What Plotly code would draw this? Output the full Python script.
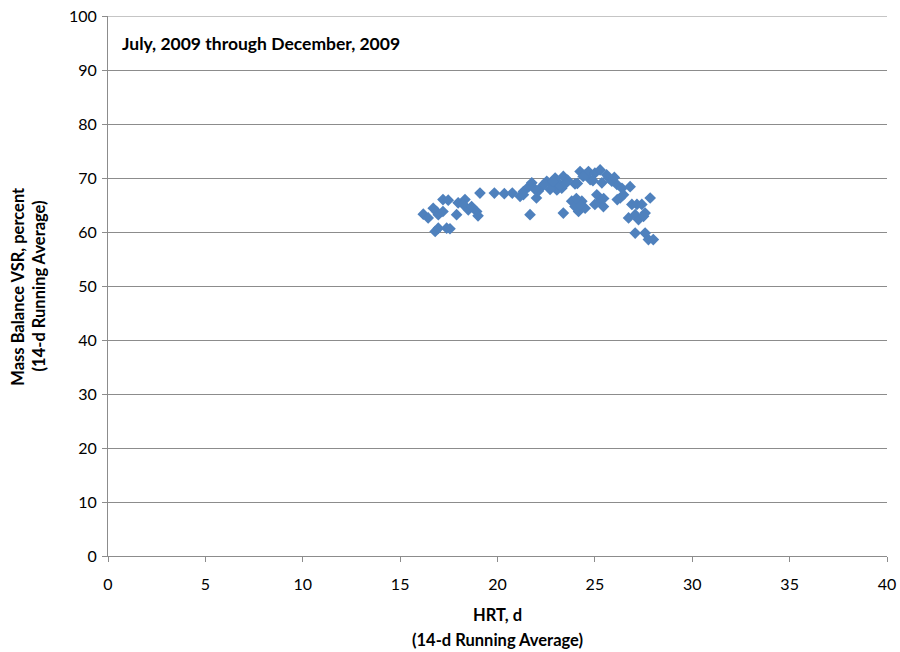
import plotly.graph_objects as go

# HRT (d) and mass-balance VSR (%), both 14-d running averages, Jul–Dec 2009
hrt = [
    16.19, 16.44, 16.70, 16.87, 16.96, 17.20, 16.80, 16.96, 17.20, 17.47,
    17.39, 17.56, 17.90, 17.98, 18.33, 18.24, 18.50, 18.67, 18.93, 19.00,
    19.10, 19.84, 20.35, 20.76, 21.16, 21.33, 21.67, 21.60, 21.76, 21.33,
    22.00, 22.27, 22.53, 22.79, 22.96, 23.13, 23.38, 23.30, 23.05, 23.38,
    23.81, 23.98, 24.16, 24.33, 24.50, 23.98, 24.24, 24.50, 24.76, 24.67,
    25.00, 25.27, 25.36, 25.10, 25.27, 25.00, 25.44, 25.70, 25.87, 26.13,
    26.39, 26.81, 26.30, 26.47, 26.73, 26.90, 27.16, 27.41, 27.07, 27.24,
    27.58, 27.50, 27.84, 27.07, 27.58, 27.75, 28.00, 25.60, 22.40, 22.70,
    23.20, 24.90, 24.10, 22.10, 21.90, 23.60, 26.00, 24.40, 25.45, 24.25,
    26.15, 22.85, 23.50, 24.05,
]
vsr = [
    63.3, 62.6, 64.4, 63.8, 63.2, 63.8, 60.1, 60.7, 66.0, 65.9,
    60.7, 60.6, 63.2, 65.4, 66.0, 65.1, 64.1, 64.7, 63.8, 63.0,
    67.2, 67.2, 67.1, 67.2, 66.6, 67.5, 63.2, 68.4, 69.1, 66.9,
    66.3, 68.4, 69.4, 68.8, 70.0, 69.1, 70.3, 68.1, 67.8, 63.5,
    65.7, 64.7, 63.8, 65.7, 64.4, 68.9, 71.2, 70.6, 69.7, 71.2,
    70.9, 71.5, 69.1, 66.9, 65.7, 65.1, 64.7, 70.0, 69.4, 68.8,
    68.1, 68.4, 66.3, 66.9, 62.6, 65.1, 65.1, 65.1, 63.2, 62.3,
    63.5, 62.9, 66.3, 59.8, 59.8, 58.6, 58.6, 70.6, 68.9, 67.9,
    68.6, 69.5, 69.0, 67.6, 68.0, 69.6, 70.1, 70.3, 66.2, 65.0,
    66.0, 69.3, 69.0, 66.2,
]

x_ticks = [0, 5, 10, 15, 20, 25, 30, 35, 40]
y_ticks = [0, 10, 20, 30, 40, 50, 60, 70, 80, 90, 100]

FONT = "Lato"
GRID = "#8c8c8c"

fig = go.Figure(
    go.Scatter(
        x=hrt,
        y=vsr,
        mode="markers",
        marker=dict(symbol="diamond", size=9, color="#4f81bd", line=dict(width=0)),
        hoverinfo="x+y",
    )
)

fig.update_layout(
    width=900,
    height=652,
    margin=dict(l=108, r=13, t=16, b=96, autoexpand=False),
    paper_bgcolor="white",
    plot_bgcolor="white",
    showlegend=False,
    font=dict(family=FONT, size=16, color="#000000"),
)

fig.update_xaxes(
    range=[0, 40],
    tickvals=x_ticks,
    ticktext=[str(v) for v in x_ticks],
    showgrid=False,
    zeroline=False,
    showline=True,
    linecolor=GRID,
    linewidth=1,
    ticks="outside",
    ticklen=5,
    tickcolor=GRID,
    ticklabelstandoff=9,
    automargin=False,
    tickfont=dict(family=FONT, size=16),
)
fig.update_yaxes(
    range=[0, 100],
    tickvals=y_ticks,
    ticktext=[str(v) for v in y_ticks],
    showgrid=True,
    gridcolor=GRID,
    gridwidth=1,
    zeroline=False,
    showline=True,
    linecolor=GRID,
    linewidth=1,
    ticks="outside",
    ticklen=5,
    tickcolor=GRID,
    ticklabelstandoff=2,
    automargin=False,
    tickfont=dict(family=FONT, size=16),
)

# top border of the plot area (the 100 gridline)
fig.add_shape(type="line", xref="paper", yref="y", x0=0, x1=1, y0=100, y1=100,
              line=dict(color=GRID, width=1))

fig.add_annotation(
    text="<b>July, 2009 through December, 2009</b>",
    xref="paper", yref="y", x=0.016, y=95, xanchor="left", yanchor="middle",
    showarrow=False, font=dict(family=FONT, size=17.5),
)

# x-axis title, two lines
title_font = dict(family=FONT, size=16.5)
fig.add_annotation(
    text="<b>HRT, d</b>",
    xref="paper", yref="paper", x=0.5, y=-0.11, xanchor="center", yanchor="middle",
    showarrow=False, font=title_font,
)
fig.add_annotation(
    text="<b>(14-d Running Average)</b>",
    xref="paper", yref="paper", x=0.5, y=-0.156, xanchor="center", yanchor="middle",
    showarrow=False, font=title_font,
)

# y-axis title, two lines
fig.add_annotation(
    text="<b>Mass Balance VSR, percent</b>",
    xref="paper", yref="paper", x=-0.116, y=0.5, xanchor="center", yanchor="middle",
    textangle=-90, showarrow=False, font=title_font,
)
fig.add_annotation(
    text="<b>(14-d Running Average)</b>",
    xref="paper", yref="paper", x=-0.088, y=0.5, xanchor="center", yanchor="middle",
    textangle=-90, showarrow=False, font=title_font,
)

fig.write_html("out.html")
